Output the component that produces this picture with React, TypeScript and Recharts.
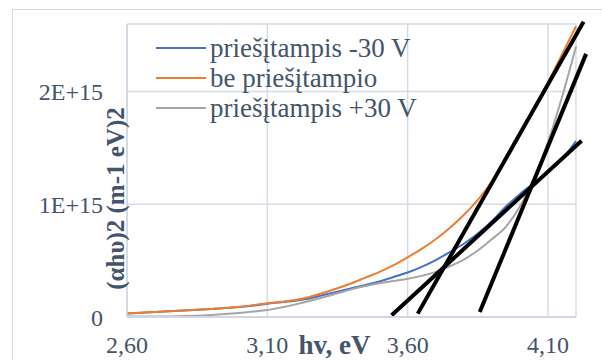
import React from "react";
import {
  LineChart,
  Line,
  XAxis,
  YAxis,
  CartesianGrid,
  Legend,
  ReferenceLine,
} from "recharts";

// photon energy, eV
const hv = [
  2.6, 2.65, 2.7, 2.75, 2.8, 2.85, 2.9, 2.95, 3.0, 3.05, 3.1, 3.15, 3.2, 3.25,
  3.3, 3.35, 3.4, 3.45, 3.5, 3.55, 3.6, 3.65, 3.7, 3.75, 3.8, 3.85, 3.9, 3.95,
  4.0, 4.05, 4.1, 4.15, 4.2,
];

// (αhυ)² in units of 1E+15
const minus30 = [
  0.03, 0.037, 0.044, 0.051, 0.058, 0.065, 0.072, 0.08, 0.088, 0.102, 0.118,
  0.131, 0.145, 0.165, 0.195, 0.225, 0.255, 0.285, 0.315, 0.355, 0.395, 0.445,
  0.505, 0.575, 0.65, 0.74, 0.85, 0.98, 1.09, 1.19, 1.29, 1.4, 1.56,
];
const noBias = [
  0.03, 0.037, 0.044, 0.051, 0.058, 0.065, 0.072, 0.08, 0.09, 0.105, 0.122,
  0.135, 0.15, 0.178, 0.215, 0.255, 0.3, 0.35, 0.4, 0.46, 0.53, 0.605, 0.69,
  0.79, 0.905, 1.04, 1.2, 1.39, 1.61, 1.84, 2.08, 2.33, 2.58,
];
const plus30 = [
  0.005, 0.004, 0.004, 0.005, 0.008, 0.012, 0.018, 0.026, 0.036, 0.048, 0.062,
  0.085, 0.112, 0.142, 0.175, 0.21, 0.245, 0.275, 0.3, 0.32, 0.34, 0.365, 0.4,
  0.45, 0.51, 0.59, 0.69, 0.8, 0.98, 1.23, 1.55, 1.95, 2.4,
];

const seriesNames = [
  "priešįtampis -30 V",
  "be priešįtampio",
  "priešįtampis +30 V",
];
const seriesColors = ["#4472C4", "#ED7D31", "#A5A5A5"];

const xTicks = [2.6, 3.1, 3.6, 4.1];
const yTicks = [0, 1e15, 2e15];

// tangent lines: [x1, y1, x2, y2] (y in 1E+15)
const tangentA = [3.636, 0.03, 4.227, 2.62];
const tangentB = [3.543, 0.015, 4.22, 1.564];
const tangentC = [3.857, 0.044, 4.236, 2.335];

const E15 = 1e15;

const data = hv.map((x, i) => ({
  x,
  m30: minus30[i] * E15,
  nb: noBias[i] * E15,
  p30: plus30[i] * E15,
}));

const font = "'Liberation Serif', 'Times New Roman', serif";
const textColor = "#44546A";

const seg = (t: number[]) => [
  { x: t[0], y: t[1] * E15 },
  { x: t[2], y: t[3] * E15 },
];

const LegendBox = (props: any) => {
  const items = [...(props.payload || [])].sort(
    (a: any, b: any) =>
      seriesNames.indexOf(a.value) - seriesNames.indexOf(b.value)
  );
  return (
    <div style={{ fontFamily: font, fontSize: 27, color: textColor }}>
      {items.map((it: any) => (
        <div
          key={it.value}
          style={{ display: "flex", alignItems: "center", height: 30 }}
        >
          <span
            style={{
              display: "inline-block",
              width: 50,
              height: 2,
              background: it.color,
              marginRight: 4,
            }}
          />
          <span style={{ lineHeight: "30px", whiteSpace: "nowrap" }}>
            {it.value}
          </span>
        </div>
      ))}
    </div>
  );
};

export default function App() {
  return (
    <div
      style={{
        position: "absolute",
        left: 0,
        top: 0,
        width: 602,
        height: 360,
        overflow: "hidden",
        background: "#fff",
      }}
    >
      <div
        style={{
          position: "absolute",
          left: 12,
          top: 9,
          width: 700,
          height: 500,
          border: "1px solid #D9D9D9",
        }}
      />
      <LineChart
        width={602}
        height={360}
        data={data}
        margin={{ top: 24, right: 26, bottom: 0, left: 0 }}
      >
        <CartesianGrid stroke="#D5DCE5" strokeWidth={1.5} />
        <XAxis
          dataKey="x"
          type="number"
          domain={[2.6, 4.2]}
          ticks={xTicks}
          height={43}
          tickLine={false}
          tickSize={0}
          tickMargin={19}
          axisLine={{ stroke: "#D0D7E2", strokeWidth: 2 }}
          tick={{ fontFamily: font, fontSize: 24, fill: textColor }}
          tickFormatter={(v: number) => v.toFixed(2).replace(".", ",")}
          label={{
            content: (p: any) => {
              const vb = p.viewBox || { x: 127, y: 317, width: 449 };
              return (
                <text
                  x={vb.x + vb.width * 0.462}
                  y={vb.y + 37}
                  textAnchor="middle"
                  fontFamily={font}
                  fontSize={27}
                  fontWeight="bold"
                  fill={textColor}
                >
                  hv, eV
                </text>
              );
            },
          }}
        />
        <YAxis
          type="number"
          domain={[0, 2.6e15]}
          ticks={yTicks}
          allowDataOverflow
          width={127}
          tickLine={false}
          tickSize={0}
          tickMargin={24}
          axisLine={{ stroke: "#D0D7E2", strokeWidth: 1.5 }}
          tick={{ fontFamily: font, fontSize: 24, fill: textColor }}
          tickFormatter={(v: number) => (v === 0 ? "0" : `${v / E15}E+15`)}
          label={{
            content: (p: any) => {
              const vb = p.viewBox || { x: 0, y: 24, width: 127, height: 293 };
              const cx = vb.x + vb.width - 12;
              const cy = vb.y + vb.height / 2 + 28;
              return (
                <text
                  x={cx}
                  y={cy}
                  transform={`rotate(-90, ${cx}, ${cy})`}
                  textAnchor="middle"
                  dominantBaseline="central"
                  fontFamily={font}
                  fontSize={25}
                  fontWeight="bold"
                  fill={textColor}
                >
                  (αhυ)2 (m-1 eV)2
                </text>
              );
            },
          }}
        />
        <Legend
          layout="vertical"
          align="center"
          verticalAlign="middle"
          content={<LegendBox />}
          wrapperStyle={{ left: 156, top: 33, width: 300, height: 90 }}
        />
        <Line
          dataKey="m30"
          name={seriesNames[0]}
          stroke={seriesColors[0]}
          strokeWidth={2}
          dot={false}
          type="monotone"
          isAnimationActive={false}
        />
        <Line
          dataKey="nb"
          name={seriesNames[1]}
          stroke={seriesColors[1]}
          strokeWidth={2}
          dot={false}
          type="monotone"
          isAnimationActive={false}
        />
        <Line
          dataKey="p30"
          name={seriesNames[2]}
          stroke={seriesColors[2]}
          strokeWidth={2}
          dot={false}
          type="monotone"
          isAnimationActive={false}
        />
        <ReferenceLine
          segment={seg(tangentA)}
          stroke="#000"
          strokeWidth={4}
          ifOverflow="visible"
        />
        <ReferenceLine
          segment={seg(tangentB)}
          stroke="#000"
          strokeWidth={4}
          ifOverflow="visible"
        />
        <ReferenceLine
          segment={seg(tangentC)}
          stroke="#000"
          strokeWidth={4}
          ifOverflow="visible"
        />
      </LineChart>
    </div>
  );
}
